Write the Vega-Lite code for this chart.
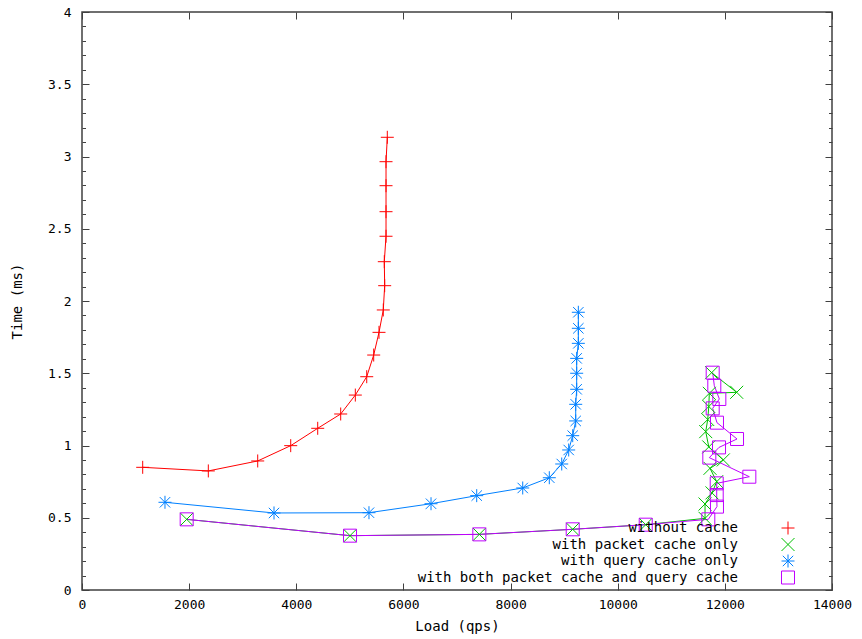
{
  "$schema": "https://vega.github.io/schema/vega-lite/v6.json",
  "width": 750,
  "height": 578,
  "autosize": {"type": "none"},
  "padding": {"left": 82, "top": 12, "right": 30, "bottom": 49},
  "background": "white",
  "config": {
    "view": {"stroke": "#404040", "strokeWidth": 1.5},
    "font": "DejaVu Sans Mono",
    "axis": {
      "domain": false,
      "grid": false,
      "labelFont": "DejaVu Sans Mono",
      "labelFontSize": 13,
      "labelColor": "#000000",
      "labelFlush": false,
      "labelOverlap": false,
      "labelBound": false,
      "tickColor": "#404040",
      "tickWidth": 1,
      "titleFont": "DejaVu Sans Mono",
      "titleFontSize": 14,
      "titleFontWeight": "normal",
      "titleColor": "#000000"
    }
  },
  "data": {"values": [
    {"s": "without cache", "i": 1, "load": 1133, "time": 0.849},
    {"s": "without cache", "i": 2, "load": 2358, "time": 0.824},
    {"s": "without cache", "i": 3, "load": 3280, "time": 0.893},
    {"s": "without cache", "i": 4, "load": 3896, "time": 0.999},
    {"s": "without cache", "i": 5, "load": 4400, "time": 1.119},
    {"s": "without cache", "i": 6, "load": 4829, "time": 1.218},
    {"s": "without cache", "i": 7, "load": 5102, "time": 1.349},
    {"s": "without cache", "i": 8, "load": 5315, "time": 1.476},
    {"s": "without cache", "i": 9, "load": 5445, "time": 1.626},
    {"s": "without cache", "i": 10, "load": 5544, "time": 1.783},
    {"s": "without cache", "i": 11, "load": 5624, "time": 1.938},
    {"s": "without cache", "i": 12, "load": 5650, "time": 2.106},
    {"s": "without cache", "i": 13, "load": 5643, "time": 2.272},
    {"s": "without cache", "i": 14, "load": 5675, "time": 2.448},
    {"s": "without cache", "i": 15, "load": 5675, "time": 2.618},
    {"s": "without cache", "i": 16, "load": 5675, "time": 2.798},
    {"s": "without cache", "i": 17, "load": 5675, "time": 2.964},
    {"s": "without cache", "i": 18, "load": 5699, "time": 3.133},

    {"s": "with packet cache only", "i": 1, "load": 1954, "time": 0.489},
    {"s": "with packet cache only", "i": 2, "load": 5003, "time": 0.376},
    {"s": "with packet cache only", "i": 3, "load": 7417, "time": 0.385},
    {"s": "with packet cache only", "i": 4, "load": 9160, "time": 0.420},
    {"s": "with packet cache only", "i": 5, "load": 10523, "time": 0.452},
    {"s": "with packet cache only", "i": 6, "load": 11630, "time": 0.496},
    {"s": "with packet cache only", "i": 7, "load": 11630, "time": 0.595},
    {"s": "with packet cache only", "i": 8, "load": 11760, "time": 0.672},
    {"s": "with packet cache only", "i": 9, "load": 11848, "time": 0.750},
    {"s": "with packet cache only", "i": 10, "load": 11723, "time": 0.842},
    {"s": "with packet cache only", "i": 11, "load": 11971, "time": 0.900},
    {"s": "with packet cache only", "i": 12, "load": 11700, "time": 0.990},
    {"s": "with packet cache only", "i": 13, "load": 11643, "time": 1.096},
    {"s": "with packet cache only", "i": 14, "load": 11680, "time": 1.180},
    {"s": "with packet cache only", "i": 15, "load": 11700, "time": 1.270},
    {"s": "with packet cache only", "i": 16, "load": 11710, "time": 1.361},
    {"s": "with packet cache only", "i": 17, "load": 12221, "time": 1.368},
    {"s": "with packet cache only", "i": 18, "load": 11753, "time": 1.504},

    {"s": "with query cache only", "i": 1, "load": 1549, "time": 0.607},
    {"s": "with query cache only", "i": 2, "load": 3584, "time": 0.533},
    {"s": "with query cache only", "i": 3, "load": 5357, "time": 0.535},
    {"s": "with query cache only", "i": 4, "load": 6515, "time": 0.597},
    {"s": "with query cache only", "i": 5, "load": 7368, "time": 0.653},
    {"s": "with query cache only", "i": 6, "load": 8227, "time": 0.706},
    {"s": "with query cache only", "i": 7, "load": 8723, "time": 0.777},
    {"s": "with query cache only", "i": 8, "load": 8955, "time": 0.872},
    {"s": "with query cache only", "i": 9, "load": 9085, "time": 0.969},
    {"s": "with query cache only", "i": 10, "load": 9160, "time": 1.068},
    {"s": "with query cache only", "i": 11, "load": 9216, "time": 1.170},
    {"s": "with query cache only", "i": 12, "load": 9216, "time": 1.285},
    {"s": "with query cache only", "i": 13, "load": 9234, "time": 1.389},
    {"s": "with query cache only", "i": 14, "load": 9234, "time": 1.500},
    {"s": "with query cache only", "i": 15, "load": 9234, "time": 1.603},
    {"s": "with query cache only", "i": 16, "load": 9265, "time": 1.707},
    {"s": "with query cache only", "i": 17, "load": 9265, "time": 1.811},
    {"s": "with query cache only", "i": 18, "load": 9265, "time": 1.922},

    {"s": "with both packet cache and query cache", "i": 1, "load": 1954, "time": 0.489},
    {"s": "with both packet cache and query cache", "i": 2, "load": 5003, "time": 0.376},
    {"s": "with both packet cache and query cache", "i": 3, "load": 7417, "time": 0.385},
    {"s": "with both packet cache and query cache", "i": 4, "load": 9160, "time": 0.420},
    {"s": "with both packet cache and query cache", "i": 5, "load": 10523, "time": 0.452},
    {"s": "with both packet cache and query cache", "i": 6, "load": 11691, "time": 0.489},
    {"s": "with both packet cache and query cache", "i": 7, "load": 11853, "time": 0.577},
    {"s": "with both packet cache and query cache", "i": 8, "load": 11848, "time": 0.657},
    {"s": "with both packet cache and query cache", "i": 9, "load": 11848, "time": 0.738},
    {"s": "with both packet cache and query cache", "i": 10, "load": 12457, "time": 0.784},
    {"s": "with both packet cache and query cache", "i": 11, "load": 11710, "time": 0.916},
    {"s": "with both packet cache and query cache", "i": 12, "load": 11891, "time": 0.987},
    {"s": "with both packet cache and query cache", "i": 13, "load": 12227, "time": 1.045},
    {"s": "with both packet cache and query cache", "i": 14, "load": 11853, "time": 1.158},
    {"s": "with both packet cache and query cache", "i": 15, "load": 11773, "time": 1.257},
    {"s": "with both packet cache and query cache", "i": 16, "load": 11897, "time": 1.322},
    {"s": "with both packet cache and query cache", "i": 17, "load": 11803, "time": 1.414},
    {"s": "with both packet cache and query cache", "i": 18, "load": 11773, "time": 1.504}
  ]},
  "resolve": {"axis": {"x": "independent", "y": "independent"}},
  "layer": [
    {
      "mark": {"type": "line", "strokeWidth": 1},
      "encoding": {
        "x": {"field": "load", "type": "quantitative",
          "scale": {"domain": [0, 14000], "nice": false, "zero": false},
          "axis": {"orient": "bottom", "values": [0, 2000, 4000, 6000, 8000, 10000, 12000, 14000],
            "ticks": false, "tickSize": 0, "labelPadding": 8, "labelExpr": "'' + datum.value",
            "title": "Load (qps)", "titlePadding": 8}},
        "y": {"field": "time", "type": "quantitative",
          "scale": {"domain": [0, 4], "nice": false, "zero": false},
          "axis": {"orient": "left", "values": [0, 0.5, 1, 1.5, 2, 2.5, 3, 3.5, 4],
            "ticks": false, "tickSize": 0, "labelPadding": 11, "labelExpr": "'' + datum.value",
            "title": "Time (ms)", "titlePadding": 23}},
        "color": {"field": "s", "type": "nominal",
          "scale": {"domain": ["without cache", "with packet cache only", "with query cache only", "with both packet cache and query cache"],
            "range": ["#ff0000", "#00c000", "#0080ff", "#c000ff"]}},
        "order": {"field": "i", "type": "quantitative"}
      }
    },
    {
      "mark": {"type": "point", "filled": false, "strokeWidth": 1, "size": 169, "opacity": 1},
      "encoding": {
        "x": {"field": "load", "type": "quantitative",
          "scale": {"domain": [0, 14000], "nice": false, "zero": false},
          "axis": {"orient": "bottom", "values": [0, 2000, 4000, 6000, 8000, 10000, 12000, 14000],
            "labels": false, "ticks": true, "tickSize": -7, "title": null}},
        "y": {"field": "time", "type": "quantitative",
          "scale": {"domain": [0, 4], "nice": false, "zero": false},
          "axis": {"orient": "left", "values": [0, 0.5, 1, 1.5, 2, 2.5, 3, 3.5, 4],
            "labels": false, "ticks": true, "tickSize": -7, "title": null}},
        "color": {"field": "s", "type": "nominal",
          "scale": {"domain": ["without cache", "with packet cache only", "with query cache only", "with both packet cache and query cache"],
            "range": ["#ff0000", "#00c000", "#0080ff", "#c000ff"]},
          "legend": {"title": null, "orient": "none", "legendX": 699, "legendY": 509, "padding": 0,
            "rowPadding": -1.5, "symbolSize": 169, "symbolStrokeWidth": 1,
            "labelFont": "DejaVu Sans Mono", "labelFontSize": 14, "labelColor": "#000000",
            "labelAlign": "right", "labelOffset": -57, "labelLimit": 600}},
        "shape": {"field": "s", "type": "nominal",
          "scale": {"domain": ["without cache", "with packet cache only", "with query cache only", "with both packet cache and query cache"],
            "range": ["M-1,0L1,0M0,-1L0,1", "M-1,-1L1,1M-1,1L1,-1", "M-1,0L1,0M0,-1L0,1M-0.8,-0.8L0.8,0.8M-0.8,0.8L0.8,-0.8", "M-1,-1L1,-1L1,1L-1,1Z"]},
          "legend": {"title": null, "orient": "none", "legendX": 699, "legendY": 509, "padding": 0,
            "rowPadding": -1.5, "symbolSize": 169, "symbolStrokeWidth": 1,
            "labelFont": "DejaVu Sans Mono", "labelFontSize": 14, "labelColor": "#000000",
            "labelAlign": "right", "labelOffset": -57, "labelLimit": 600}}
      }
    },
    {
      "mark": {"type": "point", "opacity": 0},
      "encoding": {
        "x": {"field": "load", "type": "quantitative",
          "scale": {"domain": [0, 14000], "nice": false, "zero": false},
          "axis": {"orient": "top", "values": [0, 2000, 4000, 6000, 8000, 10000, 12000, 14000],
            "labels": false, "ticks": true, "tickSize": -7, "title": null}},
        "y": {"field": "time", "type": "quantitative",
          "scale": {"domain": [0, 4], "nice": false, "zero": false},
          "axis": {"orient": "right", "values": [0, 0.5, 1, 1.5, 2, 2.5, 3, 3.5, 4],
            "labels": false, "ticks": true, "tickSize": -7, "title": null}}
      }
    },
    {
      "mark": {"type": "point", "opacity": 0},
      "encoding": {
        "x": {"field": "load", "type": "quantitative",
          "scale": {"domain": [0, 14000], "nice": false, "zero": false}, "axis": null},
        "y": {"field": "time", "type": "quantitative",
          "scale": {"domain": [0, 4], "nice": false, "zero": false},
          "axis": {"orient": "left", "values": [0.1, 0.2, 0.3, 0.4, 0.6, 0.7, 0.8, 0.9, 1.1, 1.2, 1.3, 1.4, 1.6, 1.7, 1.8, 1.9, 2.1, 2.2, 2.3, 2.4, 2.6, 2.7, 2.8, 2.9, 3.1, 3.2, 3.3, 3.4, 3.6, 3.7, 3.8, 3.9],
            "labels": false, "ticks": true, "tickSize": -3.5, "title": null}}
      }
    },
    {
      "mark": {"type": "point", "opacity": 0},
      "encoding": {
        "x": {"field": "load", "type": "quantitative",
          "scale": {"domain": [0, 14000], "nice": false, "zero": false}, "axis": null},
        "y": {"field": "time", "type": "quantitative",
          "scale": {"domain": [0, 4], "nice": false, "zero": false},
          "axis": {"orient": "right", "values": [0.1, 0.2, 0.3, 0.4, 0.6, 0.7, 0.8, 0.9, 1.1, 1.2, 1.3, 1.4, 1.6, 1.7, 1.8, 1.9, 2.1, 2.2, 2.3, 2.4, 2.6, 2.7, 2.8, 2.9, 3.1, 3.2, 3.3, 3.4, 3.6, 3.7, 3.8, 3.9],
            "labels": false, "ticks": true, "tickSize": -3.5, "title": null}}
      }
    }
  ]
}
